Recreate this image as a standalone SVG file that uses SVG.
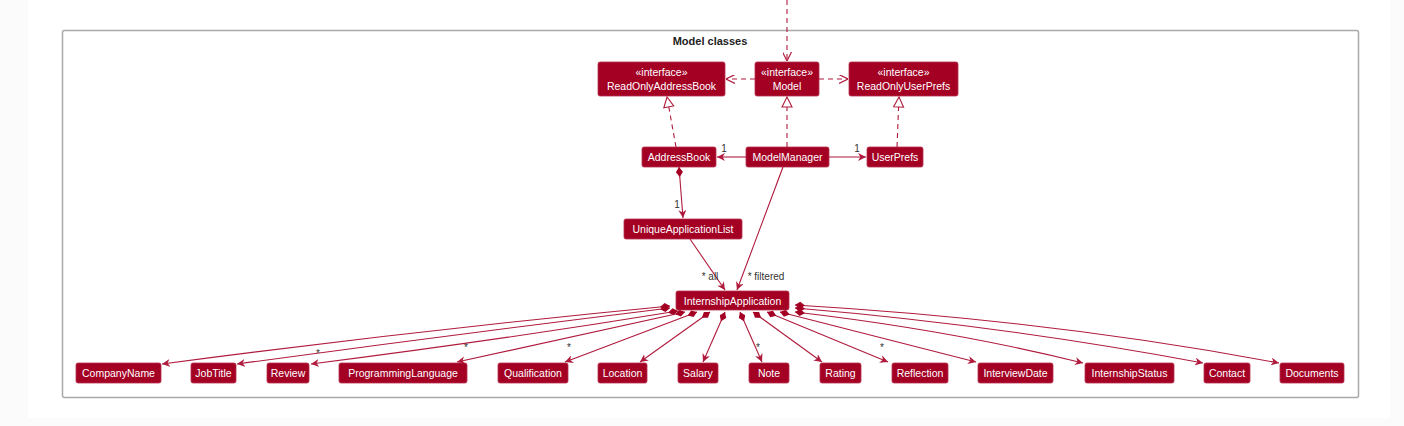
<svg xmlns="http://www.w3.org/2000/svg" width="1404" height="426" viewBox="0 0 1404 426">
<defs>
<style>
.bg{fill:#fbfbfb}
.page{fill:#ffffff}
.frame{fill:none;stroke:#a9a9a9;stroke-width:1.5}
.title{font-family:"Liberation Sans",Arial,sans-serif;font-size:11px;font-weight:bold;fill:#222;text-anchor:middle}
.box{fill:#a30024;stroke:#b8304f;stroke-width:0.8}
.t{font-family:"Liberation Sans",Arial,sans-serif;font-size:10.5px;fill:#ffffff;text-anchor:middle}
.e{fill:none;stroke:#b01a3c;stroke-width:1.1}
.d{stroke-dasharray:5,4}
.lbl{font-family:"Liberation Sans",Arial,sans-serif;font-size:10px;fill:#333;text-anchor:middle}
</style>
<marker id="arr" viewBox="0 0 10 10" refX="10" refY="5" markerWidth="8" markerHeight="8" orient="auto" markerUnits="userSpaceOnUse">
<path d="M0,0 L10,5 L0,10 L3,5 Z" fill="#b01a3c"/>
</marker>
<marker id="open" viewBox="0 0 10 10" refX="10" refY="5" markerWidth="9" markerHeight="9" orient="auto" markerUnits="userSpaceOnUse">
<path d="M0,0 L10,5 L0,10" fill="none" stroke="#b01a3c" stroke-width="1.3"/>
</marker>
<marker id="tri" viewBox="0 0 12 12" refX="11" refY="6" markerWidth="12" markerHeight="12" orient="auto" markerUnits="userSpaceOnUse">
<path d="M1,1 L11,6 L1,11 Z" fill="#ffffff" stroke="#b01a3c" stroke-width="1.1"/>
</marker>
<marker id="dm" viewBox="0 0 10 8" refX="0" refY="4" markerWidth="10" markerHeight="8" orient="auto" markerUnits="userSpaceOnUse">
<path d="M0,4 L5,0.5 L10,4 L5,7.5 Z" fill="#a30024"/>
</marker>
</defs>
<rect class="bg" x="0" y="0" width="1404" height="426"/>
<rect class="page" x="28" y="0" width="1362" height="418"/>
<rect class="frame" x="62.5" y="30.5" width="1296" height="367" rx="2"/>
<text class="title" x="710" y="45">Model classes</text>

<g id="connectors">
<line class="e d" x1="787" y1="0" x2="787" y2="61" marker-end="url(#open)"/>
<line class="e d" x1="755" y1="79" x2="726" y2="79" marker-end="url(#open)"/>
<line class="e d" x1="819" y1="79" x2="848" y2="79" marker-end="url(#open)"/>
<line class="e d" x1="676" y1="147" x2="667" y2="97" marker-end="url(#tri)"/>
<line class="e d" x1="787" y1="147" x2="787" y2="97" marker-end="url(#tri)"/>
<line class="e d" x1="897" y1="147" x2="899" y2="97" marker-end="url(#tri)"/>
<line class="e" x1="746" y1="157" x2="717" y2="157" marker-end="url(#arr)"/>
<text class="lbl" x="724" y="152">1</text>
<line class="e" x1="829" y1="157" x2="866" y2="157" marker-end="url(#arr)"/>
<text class="lbl" x="857" y="152">1</text>
<line class="e" x1="679" y1="167" x2="683" y2="218" marker-start="url(#dm)" marker-end="url(#arr)"/>
<text class="lbl" x="677" y="208">1</text>
<line class="e" x1="690" y1="239" x2="725" y2="290" marker-end="url(#arr)"/>
<text class="lbl" x="710" y="280">* all</text>
<line class="e" x1="783" y1="167" x2="737" y2="290" marker-end="url(#arr)"/>
<text class="lbl" x="766" y="280">* filtered</text>

<path class="e" d="M670,306 Q420,330 162,364" marker-start="url(#dm)" marker-end="url(#arr)"/>
<path class="e" d="M670,308 Q450,335 237,364" marker-start="url(#dm)" marker-end="url(#arr)"/>
<path class="e" d="M678,311 Q500,340 311,364" marker-start="url(#dm)" marker-end="url(#arr)"/>
<text class="lbl" x="318" y="357">*</text>
<line class="e" x1="685" y1="312" x2="457" y2="362" marker-start="url(#dm)" marker-end="url(#arr)"/>
<text class="lbl" x="466" y="351">*</text>
<line class="e" x1="697" y1="312" x2="565" y2="362" marker-start="url(#dm)" marker-end="url(#arr)"/>
<text class="lbl" x="569" y="351">*</text>
<line class="e" x1="710" y1="312" x2="640" y2="362" marker-start="url(#dm)" marker-end="url(#arr)"/>
<line class="e" x1="725" y1="312" x2="703" y2="362" marker-start="url(#dm)" marker-end="url(#arr)"/>
<line class="e" x1="740" y1="312" x2="762" y2="362" marker-start="url(#dm)" marker-end="url(#arr)"/>
<text class="lbl" x="758" y="351">*</text>
<line class="e" x1="753" y1="312" x2="822" y2="362" marker-start="url(#dm)" marker-end="url(#arr)"/>
<line class="e" x1="767" y1="312" x2="888" y2="362" marker-start="url(#dm)" marker-end="url(#arr)"/>
<text class="lbl" x="882" y="351">*</text>
<line class="e" x1="780" y1="312" x2="976" y2="362" marker-start="url(#dm)" marker-end="url(#arr)"/>
<path class="e" d="M795,312 Q950,330 1083,363" marker-start="url(#dm)" marker-end="url(#arr)"/>
<path class="e" d="M795,308 Q1000,325 1203,363" marker-start="url(#dm)" marker-end="url(#arr)"/>
<path class="e" d="M795,305 Q1050,320 1279,363" marker-start="url(#dm)" marker-end="url(#arr)"/>
</g>

<g id="ReadOnlyAddressBook"><rect class="box" x="598" y="62" width="127" height="34" rx="2"/><text class="t" x="661.5" y="76">«interface»</text><text class="t" x="661.5" y="90">ReadOnlyAddressBook</text></g>
<g id="Model"><rect class="box" x="755" y="62" width="64" height="34" rx="2"/><text class="t" x="787" y="76">«interface»</text><text class="t" x="787" y="90">Model</text></g>
<g id="ReadOnlyUserPrefs"><rect class="box" x="849" y="62" width="109" height="34" rx="2"/><text class="t" x="903.5" y="76">«interface»</text><text class="t" x="903.5" y="90">ReadOnlyUserPrefs</text></g>
<g id="AddressBook"><rect class="box" x="642" y="147" width="74" height="20" rx="2"/><text class="t" x="679" y="161">AddressBook</text></g>
<g id="ModelManager"><rect class="box" x="746" y="147" width="83" height="20" rx="2"/><text class="t" x="787.5" y="161">ModelManager</text></g>
<g id="UserPrefs"><rect class="box" x="867" y="147" width="56" height="20" rx="2"/><text class="t" x="895" y="161">UserPrefs</text></g>
<g id="UniqueApplicationList"><rect class="box" x="624" y="219" width="118" height="20" rx="2"/><text class="t" x="683" y="233">UniqueApplicationList</text></g>
<g id="InternshipApplication"><rect class="box" x="676" y="291" width="113" height="19" rx="2"/><text class="t" x="732.5" y="304.5">InternshipApplication</text></g>

<g id="CompanyName"><rect class="box" x="76" y="363" width="85" height="20" rx="2"/><text class="t" x="118.5" y="377">CompanyName</text></g>
<g id="JobTitle"><rect class="box" x="191" y="363" width="45" height="20" rx="2"/><text class="t" x="213.5" y="377">JobTitle</text></g>
<g id="Review"><rect class="box" x="267" y="363" width="42" height="20" rx="2"/><text class="t" x="288" y="377">Review</text></g>
<g id="ProgrammingLanguage"><rect class="box" x="339" y="363" width="128" height="20" rx="2"/><text class="t" x="403" y="377">ProgrammingLanguage</text></g>
<g id="Qualification"><rect class="box" x="498" y="363" width="70" height="20" rx="2"/><text class="t" x="533" y="377">Qualification</text></g>
<g id="Location"><rect class="box" x="598" y="363" width="49" height="20" rx="2"/><text class="t" x="622.5" y="377">Location</text></g>
<g id="Salary"><rect class="box" x="678" y="363" width="40" height="20" rx="2"/><text class="t" x="698" y="377">Salary</text></g>
<g id="Note"><rect class="box" x="749" y="363" width="40" height="20" rx="2"/><text class="t" x="769" y="377">Note</text></g>
<g id="Rating"><rect class="box" x="820" y="363" width="41" height="20" rx="2"/><text class="t" x="840.5" y="377">Rating</text></g>
<g id="Reflection"><rect class="box" x="892" y="363" width="56" height="20" rx="2"/><text class="t" x="920" y="377">Reflection</text></g>
<g id="InterviewDate"><rect class="box" x="978" y="363" width="75" height="20" rx="2"/><text class="t" x="1015.5" y="377">InterviewDate</text></g>
<g id="InternshipStatus"><rect class="box" x="1085" y="363" width="89" height="20" rx="2"/><text class="t" x="1129.5" y="377">InternshipStatus</text></g>
<g id="Contact"><rect class="box" x="1204" y="363" width="46" height="20" rx="2"/><text class="t" x="1227" y="377">Contact</text></g>
<g id="Documents"><rect class="box" x="1280" y="363" width="64" height="20" rx="2"/><text class="t" x="1312" y="377">Documents</text></g>
</svg>
